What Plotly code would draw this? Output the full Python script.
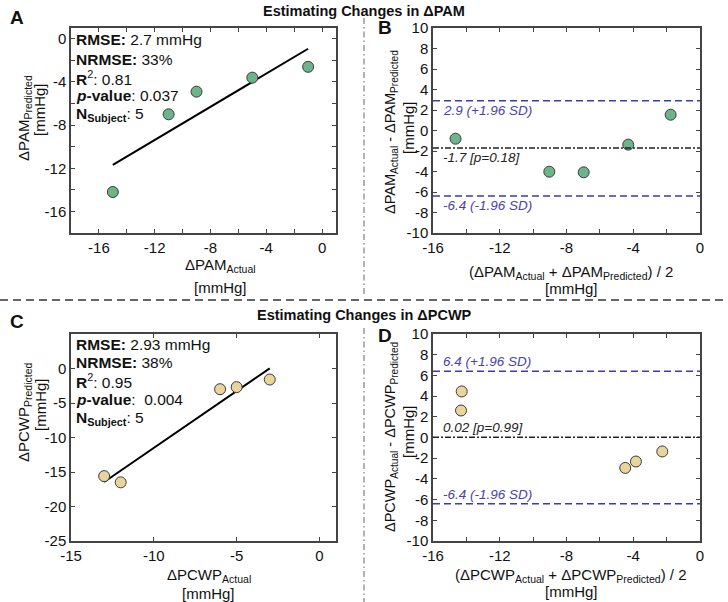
import numpy as np
import plotly.graph_objects as go

# ---------------- data ----------------
pam_actual = [-15, -11, -9, -5, -1]
pam_pred = [-14.2, -7.0, -4.9, -3.6, -2.6]
pam_ba_mean = [-14.65, -9.03, -6.97, -4.3, -1.76]
pam_ba_diff = [-0.8, -4.02, -4.08, -1.38, 1.54]
pam_bias, pam_loa_hi, pam_loa_lo = -1.7, 2.9, -6.4
pam_stats = ["2.7 mmHg", "33%", "0.81", "0.037", "5"]
pam_bias_label = "-1.7 [p=0.18]"

pcwp_actual = [-13, -12, -6, -5, -3]
pcwp_pred = [-15.6, -16.5, -3.0, -2.7, -1.6]
pcwp_ba_mean = [-14.32, -14.28, -4.48, -3.84, -2.26]
pcwp_ba_diff = [2.61, 4.45, -2.94, -2.32, -1.35]
pcwp_bias, pcwp_loa_hi, pcwp_loa_lo = 0.02, 6.4, -6.4
pcwp_stats = ["2.93 mmHg", "38%", "0.95", " 0.004", "5"]
pcwp_bias_label = "0.02 [p=0.99]"

titles = ["Estimating Changes in ΔPAM", "Estimating Changes in ΔPCWP"]

# ---------------- style ----------------
W, H = 728, 602
FONT = "Arial, Liberation Sans, sans-serif"
GREEN = "#6db48a"
TAN = "#e9d59c"
EDGE = "#3a3a3a"
BLUE = "#3a3db0"
BLUE_TXT = "#4a43a8"
AX = "#444444"


def px(x):
    return x / W


def py(y):
    return 1 - y / H


fig = go.Figure()

# domains
dxL = [px(71), px(336)]
dxR = [px(433), px(700)]
dyT = [py(233), py(28)]
dyB = [py(541), py(334)]


def reg_line(x, y):
    k, b = np.polyfit(x, y, 1)
    xs = np.array([min(x), max(x)])
    return xs, k * xs + b


# Panel A
xs, ys = reg_line(pam_actual, pam_pred)
fig.add_trace(go.Scatter(x=xs, y=ys, mode="lines", line=dict(color="black", width=2),
                         xaxis="x", yaxis="y", showlegend=False, hoverinfo="skip"))
fig.add_trace(go.Scatter(x=pam_actual, y=pam_pred, mode="markers",
                         marker=dict(size=11, color=GREEN, line=dict(color=EDGE, width=1)),
                         xaxis="x", yaxis="y", showlegend=False))
# Panel B
fig.add_trace(go.Scatter(x=pam_ba_mean, y=pam_ba_diff, mode="markers",
                         marker=dict(size=11, color=GREEN, line=dict(color=EDGE, width=1)),
                         xaxis="x2", yaxis="y2", showlegend=False))
# Panel C
xs, ys = reg_line(pcwp_actual, pcwp_pred)
fig.add_trace(go.Scatter(x=xs, y=ys, mode="lines", line=dict(color="black", width=2),
                         xaxis="x3", yaxis="y3", showlegend=False, hoverinfo="skip"))
fig.add_trace(go.Scatter(x=pcwp_actual, y=pcwp_pred, mode="markers",
                         marker=dict(size=11, color=TAN, line=dict(color=EDGE, width=1)),
                         xaxis="x3", yaxis="y3", showlegend=False))
# Panel D
fig.add_trace(go.Scatter(x=pcwp_ba_mean, y=pcwp_ba_diff, mode="markers",
                         marker=dict(size=11, color=TAN, line=dict(color=EDGE, width=1)),
                         xaxis="x4", yaxis="y4", showlegend=False))


def axis(domain, rng, tickvals, ticktext, anchor):
    return dict(domain=domain, range=rng, tickvals=tickvals, ticktext=ticktext,
                anchor=anchor, showgrid=False, zeroline=False, showline=True,
                linecolor=AX, linewidth=1.5, mirror="ticks", ticks="inside",
                ticklen=4, tickwidth=1, tickcolor=AX, automargin=False,
                tickfont=dict(family=FONT, size=15, color="#111"))


def lbl(vals, step):
    return [(f"{v:g}" if v % step == 0 else "") for v in vals]


xa = list(range(-16, 1, 2))
ya = list(range(-18, 1, 2))
xb = list(range(-16, 1, 2))
yb = list(range(-10, 11, 2))
xc = [-15, -10, -5, 0]
yc = [-25, -20, -15, -10, -5, 0]

fig.update_layout(
    xaxis=axis(dxL, [-18, 1], xa, lbl(xa, 4), "y"),
    yaxis=axis(dyT, [-18, 1], ya, lbl(ya, 4), "x"),
    xaxis2=axis(dxR, [-16, 0], xb, lbl(xb, 4), "y2"),
    yaxis2=axis(dyT, [-10, 10], yb, lbl(yb, 2), "x2"),
    xaxis3=axis(dxL, [-15, 1], xc, lbl(xc, 5), "y3"),
    yaxis3=axis(dyB, [-25, 5], yc, lbl(yc, 5), "x3"),
    xaxis4=axis(dxR, [-16, 0], xb, lbl(xb, 4), "y4"),
    yaxis4=axis(dyB, [-10, 10], yb, lbl(yb, 2), "x4"),
)

shapes = []
# Bland-Altman lines
for xr, yr, bias, hi, lo in [("x2 domain", "y2", pam_bias, pam_loa_hi, pam_loa_lo),
                             ("x4 domain", "y4", pcwp_bias, pcwp_loa_hi, pcwp_loa_lo)]:
    for v in (hi, lo):
        shapes.append(dict(type="line", xref=xr, yref=yr, x0=0, x1=1, y0=v, y1=v,
                           line=dict(color=BLUE, width=1.5, dash="7px,4px")))
    shapes.append(dict(type="line", xref=xr, yref=yr, x0=0, x1=1, y0=bias, y1=bias,
                       line=dict(color="#222", width=1.5, dash="6px,2px,2px,2px")))
# dividers
shapes.append(dict(type="line", xref="paper", yref="paper", x0=0, x1=1, y0=py(300), y1=py(300),
                   line=dict(color="#333", width=1.3, dash="8px,5px")))
for y0, y1 in [(18, 296), (328, 602)]:
    shapes.append(dict(type="line", xref="paper", yref="paper", x0=0.5, x1=0.5,
                       y0=py(y0), y1=py(y1),
                       line=dict(color="#666", width=1, dash="6px,3px,1.5px,3px")))
fig.update_layout(shapes=shapes)

ann = []


def A(text, x, y, size=14, xanchor="center", yanchor="middle", angle=0, color="#111", **kw):
    ann.append(dict(text=text, x=px(x), y=py(y), xref="paper", yref="paper",
                    xanchor=xanchor, yanchor=yanchor, textangle=angle, showarrow=False,
                    font=dict(family=FONT, size=size, color=color), **kw))


# titles
A(f"<b>{titles[0]}</b>", 364, 11, size=14.5)
A(f"<b>{titles[1]}</b>", 364, 315, size=14.5)
# panel letters
A("<b>A</b>", 8, 17, size=19, xanchor="left")
A("<b>B</b>", 376, 28, size=19, xanchor="left")
A("<b>C</b>", 8, 321, size=19, xanchor="left")
A("<b>D</b>", 376, 335, size=19, xanchor="left")

# stats text
for stats, ys0 in [(pam_stats, [40, 59, 78, 96, 115]), (pcwp_stats, [344, 362, 381, 399, 418])]:
    lines = [f"<b>RMSE:</b> {stats[0]}",
             f"<b>NRMSE:</b> {stats[1]}",
             f"<b>R</b><sup>2</sup>: {stats[2]}",
             f"<b><i>p</i>-value</b>: {stats[3]}",
             f"<b>N<sub>Subject</sub></b>: {stats[4]}"]
    for t, yy in zip(lines, ys0):
        A(t, 74, yy, size=15.5, xanchor="left")

# axis titles A
A("ΔPAM<sub>Predicted</sub>", 24, 118, size=15, angle=-90)
A("[mmHg]", 40, 110, size=15, angle=-90)
A("ΔPAM<sub>Actual</sub>", 220, 265, size=15)
A("[mmHg]", 220, 287, size=15)
# B
A("ΔPAM<sub>Actual</sub> - ΔPAM<sub>Predicted</sub>", 391, 132, size=14.5, angle=-90)
A("[mmHg]", 408, 128, size=15, angle=-90)
A("(ΔPAM<sub>Actual</sub> + ΔPAM<sub>Predicted</sub>) / 2", 571, 272, size=15)
A("[mmHg]", 571, 288, size=15)
# C
A("ΔPCWP<sub>Predicted</sub>", 24, 412, size=15, angle=-90)
A("[mmHg]", 40, 405, size=15, angle=-90)
A("ΔPCWP<sub>Actual</sub>", 209, 575, size=15)
A("[mmHg]", 209, 593, size=15)
# D
A("ΔPCWP<sub>Actual</sub> - ΔPCWP<sub>Predicted</sub>", 391, 437, size=14.5, angle=-90)
A("[mmHg]", 408, 432, size=15, angle=-90)
A("(ΔPCWP<sub>Actual</sub> + ΔPCWP<sub>Predicted</sub>) / 2", 571, 575, size=15)
A("[mmHg]", 571, 591, size=15)

fig.update_layout(annotations=ann)

# Bland-Altman labels (data-anchored y)
ba_ann = []


def BA(text, xr, yr, v, below, color):
    ba_ann.append(dict(text=f"<i>{text}</i>", xref=xr, yref=yr, x=0.03, y=v,
                       xanchor="left", yanchor="top" if below else "bottom",
                       showarrow=False, font=dict(family=FONT, size=13.5, color=color)))


BA(f"{pam_loa_hi:g} (+1.96 SD)", "x2 domain", "y2", pam_loa_hi, True, BLUE_TXT)
BA(pam_bias_label, "x2 domain", "y2", pam_bias, True, "#222")
BA(f"{pam_loa_lo:g} (-1.96 SD)", "x2 domain", "y2", pam_loa_lo, True, BLUE_TXT)
BA(f"{pcwp_loa_hi:g} (+1.96 SD)", "x4 domain", "y4", pcwp_loa_hi, False, BLUE_TXT)
BA(pcwp_bias_label, "x4 domain", "y4", pcwp_bias, False, "#222")
BA(f"{pcwp_loa_lo:g} (-1.96 SD)", "x4 domain", "y4", pcwp_loa_lo, False, BLUE_TXT)
for a in ba_ann:
    fig.add_annotation(**a)

fig.update_layout(width=W, height=H, margin=dict(l=0, r=0, t=0, b=0),
                  paper_bgcolor="white", plot_bgcolor="white",
                  font=dict(family=FONT, size=14, color="#111"))

fig.write_html("out.html", config={"displayModeBar": False},
               post_script="document.body.style.margin='0';document.body.style.overflow='hidden';")
